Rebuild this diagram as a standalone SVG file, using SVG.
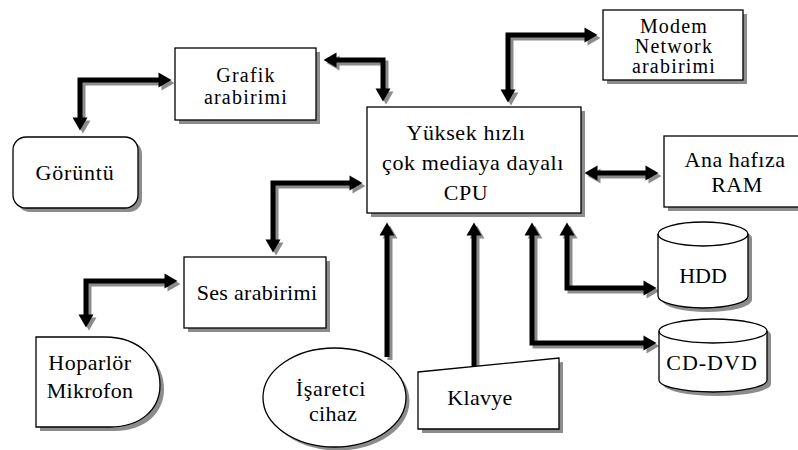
<svg xmlns="http://www.w3.org/2000/svg" width="798" height="450" viewBox="0 0 798 450">
<style>
  .bg{fill:#ffffff}
  .node{fill:#ffffff;stroke:#000000;stroke-width:1.3}
  .shadow{fill:#8c8c8c;stroke:none}
  .t{font-family:'Liberation Serif','DejaVu Serif','Times New Roman',Times,serif;font-size:22px;fill:#000000;text-anchor:middle}
  .s20{font-size:20px;letter-spacing:1.2px}
  .ln{fill:none;stroke:#000000;stroke-width:5;stroke-linejoin:miter}
  .ls{fill:none;stroke:#8c8c8c;stroke-width:5;stroke-linejoin:miter}
  .a2{marker-start:url(#ah);marker-end:url(#ah)}
  .a1{marker-end:url(#ah)}
  .s2{marker-start:url(#ahs);marker-end:url(#ahs)}
  .s1{marker-end:url(#ahs)}
</style>
<defs>
  <marker id="ah" markerUnits="userSpaceOnUse" markerWidth="14" markerHeight="15" refX="0.5" refY="7.5" orient="auto-start-reverse" overflow="visible">
    <path d="M0,0 L13,7.5 L0,15 Z" fill="#000000"/>
  </marker>
  <marker id="ahs" markerUnits="userSpaceOnUse" markerWidth="14" markerHeight="15" refX="0.5" refY="7.5" orient="auto-start-reverse" overflow="visible">
    <path d="M0,0 L13,7.5 L0,15 Z" fill="#8c8c8c"/>
  </marker>
</defs>
<rect class="bg" x="0" y="0" width="798" height="450"/>

<g id="connectors">
  <g transform="translate(3,3)">
    <path class="ls s2" d="M80,118 V80 H159"/>
    <path class="ls s2" d="M336,60 H383 V89"/>
    <path class="ls s2" d="M508,90 V35 H585"/>
    <path class="ls s2" d="M597,173 H646"/>
    <path class="ls s2" d="M273,240 V183 H350"/>
    <path class="ls s2" d="M86,315 V281 H165"/>
    <path class="ls s1" d="M387,357 V235"/>
    <path class="ls s1" d="M474,366 V235"/>
    <path class="ls s2" d="M532,235 V343 H644"/>
    <path class="ls s2" d="M567,235 V288 H644"/>
  </g>
  <path class="ln a2" d="M80,118 V80 H159"/>
  <path class="ln a2" d="M336,60 H383 V89"/>
  <path class="ln a2" d="M508,90 V35 H585"/>
  <path class="ln a2" d="M597,173 H646"/>
  <path class="ln a2" d="M273,240 V183 H350"/>
  <path class="ln a2" d="M86,315 V281 H165"/>
  <path class="ln a1" d="M387,357 V235"/>
  <path class="ln a1" d="M474,366 V235"/>
  <path class="ln a2" d="M532,235 V343 H644"/>
  <path class="ln a2" d="M567,235 V288 H644"/>
</g>

<g id="grafik">
  <rect class="shadow" x="179" y="52" width="141" height="72"/>
  <rect class="node" x="175" y="48" width="141" height="72"/>
  <text class="t s20" x="246" y="82">Grafik</text>
  <text class="t s20" x="246" y="104">arabirimi</text>
</g>

<g id="goruntu">
  <rect class="shadow" x="17" y="141" width="125" height="71" rx="13"/>
  <rect class="node" x="13" y="137" width="125" height="71" rx="13"/>
  <text class="t" x="75" y="180" style="letter-spacing:0.8px">Görüntü</text>
</g>

<g id="cpu">
  <rect class="shadow" x="371" y="111" width="214" height="106"/>
  <rect class="node" x="367" y="107" width="214" height="106"/>
  <text class="t" x="466" y="140" style="letter-spacing:0.6px">Yüksek hızlı</text>
  <text class="t" x="473" y="170" style="letter-spacing:0.6px">çok mediaya dayalı</text>
  <text class="t" x="466" y="200" style="letter-spacing:0.6px">CPU</text>
</g>

<g id="modem">
  <rect class="shadow" x="607" y="14" width="140" height="70"/>
  <rect class="node" x="603" y="10" width="140" height="70"/>
  <text class="t s20" x="674" y="33">Modem</text>
  <text class="t s20" x="674" y="53">Network</text>
  <text class="t s20" x="674" y="73">arabirimi</text>
</g>

<g id="ram">
  <rect class="shadow" x="668" y="140" width="142" height="71"/>
  <rect class="node" x="664" y="136" width="142" height="71"/>
  <text class="t" x="735" y="167" style="letter-spacing:0.5px">Ana hafıza</text>
  <text class="t" x="737" y="192" style="letter-spacing:0.5px">RAM</text>
</g>

<g id="ses">
  <rect class="shadow" x="188" y="261" width="142" height="71"/>
  <rect class="node" x="184" y="257" width="142" height="71"/>
  <text class="t" x="257" y="300" style="letter-spacing:0.3px">Ses arabirimi</text>
</g>

<g id="hoparlor">
  <path class="shadow" d="M40,341 H109 C144,341 164,364 164,389 C164,414 144,431 114,431 H40 Z"/>
  <path class="node" d="M36,337 H105 C140,337 160,360 160,385 C160,410 140,427 110,427 H36 Z"/>
  <text class="t" x="90" y="370" style="letter-spacing:0.5px">Hoparlör</text>
  <text class="t" x="90" y="398" style="letter-spacing:0.3px">Mikrofon</text>
</g>

<g id="isaretci">
  <ellipse class="shadow" cx="338" cy="401" rx="71.5" ry="49.5"/>
  <ellipse class="node" cx="334.5" cy="397.5" rx="71.5" ry="49.5"/>
  <text class="t" x="331" y="396" style="letter-spacing:0.7px">İşaretci</text>
  <text class="t" x="333" y="421" style="letter-spacing:0.3px">cihaz</text>
</g>

<g id="klavye">
  <polygon class="shadow" points="422,376 563,362 563,433 422,433"/>
  <polygon class="node" points="418,372 559,358 559,429 418,429"/>
  <text class="t" x="480" y="405" style="letter-spacing:0.3px">Klavye</text>
</g>

<g id="hdd">
  <path class="shadow" d="M662,238 A45,12 0 0 1 752,238 V300 A45,12 0 0 1 662,300 Z"/>
  <path class="node" d="M658,234 A45,12 0 0 1 748,234 V296 A45,12 0 0 1 658,296 Z"/>
  <path class="node" style="fill:none" d="M658,234 A45,12 0 0 0 748,234"/>
  <text class="t" x="703" y="283">HDD</text>
</g>

<g id="cddvd">
  <path class="shadow" d="M663,335 A54,12 0 0 1 771,335 V384 A54,12 0 0 1 663,384 Z"/>
  <path class="node" d="M659,331 A54,12 0 0 1 767,331 V380 A54,12 0 0 1 659,380 Z"/>
  <path class="node" style="fill:none" d="M659,331 A54,12 0 0 0 767,331"/>
  <text class="t" x="712" y="370" style="letter-spacing:1px">CD-DVD</text>
</g>
</svg>
